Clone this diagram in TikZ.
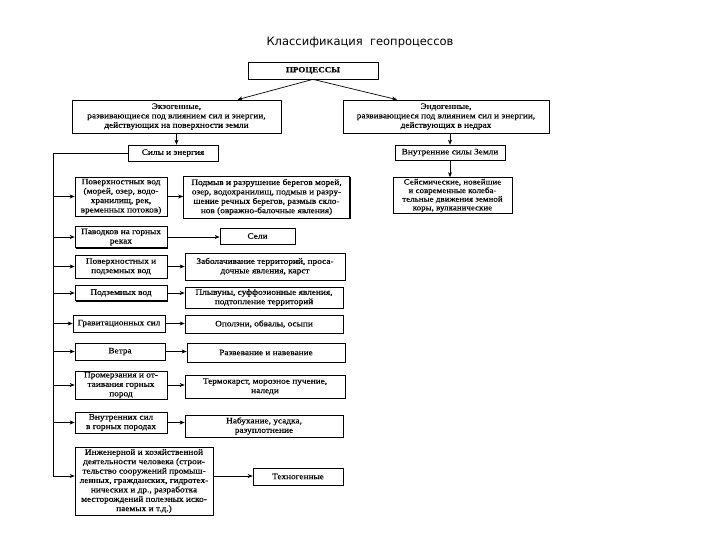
\documentclass[tikz,border=0pt]{standalone}
\usepackage{fontspec}
\setmainfont{Liberation Serif}
\newfontfamily\boxfont[FakeStretch=1.12,FakeBold=0.4]{Liberation Serif}
\newfontfamily\titlefont{DejaVu Sans}
\usetikzlibrary{arrows.meta,shadows,calc}
\begin{document}
\begin{tikzpicture}[x=1pt,y=-1pt,
  bx/.style={draw, line width=0.7pt, fill=white, align=center, inner sep=1pt,
    font=\boxfont\fontsize{8.3}{9.4}\selectfont,
    drop shadow={shadow xshift=1pt, shadow yshift=-1pt, fill=black, opacity=1}},
  arr/.style={-{Stealth[length=5pt,width=4pt]}, line width=0.7pt},
  ln/.style={line width=0.7pt}]
\fill[white] (0,0) rectangle (720,540);
\useasboundingbox (0,0) rectangle (720,540);

\node[font=\titlefont\fontsize{11.5}{13}\selectfont] (title) at (360,43) {Классификация\ \ геопроцессов};

\node[bx, minimum width=130pt, minimum height=17pt, font=\boxfont\bfseries\fontsize{8}{9}\selectfont] (proc) at (313,70.5) {ПРОЦЕССЫ};
\node[bx, minimum width=209pt, minimum height=33pt] (exo) at (176.5,116.5) {Экзогенные,\\развивающиеся под влиянием сил и энергии,\\действующих на поверхности земли};
\node[bx, minimum width=206pt, minimum height=33pt] (endo) at (446,116.5) {Эндогенные,\\развивающиеся под влиянием сил и энергии,\\действующих в недрах};
\node[bx, minimum width=90pt, minimum height=16pt] (sily) at (173,153) {Силы и энергия};
\node[bx, minimum width=110pt, minimum height=15pt] (vnutr) at (450,152.5) {Внутренние силы Земли};
\node[bx, minimum width=119pt, minimum height=36pt, font=\boxfont\fontsize{8}{8.6}\selectfont] (seism) at (452.5,195.5) {Сейсмические, новейшие\\и современные колеба-\\тельные движения земной\\коры, вулканические};

% left column
\node[bx, minimum width=92pt, minimum height=39pt] (pov) at (121,196.5) {Поверхностных вод\\(морей, озер, водо-\\хранилищ, рек,\\временных потоков)};
\node[bx, minimum width=92pt, minimum height=21pt] (pavod) at (121,237) {Паводков на горных\\реках};
\node[bx, minimum width=92pt, minimum height=23pt] (povpodz) at (121,266.5) {Поверхностных и\\подземных вод};
\node[bx, minimum width=92pt, minimum height=15pt] (podz) at (121,293) {Подземных вод};
\node[bx, minimum width=92pt, minimum height=17pt] (grav) at (119,323.5) {Гравитационных сил};
\node[bx, minimum width=90pt, minimum height=17pt] (vetra) at (120,351.5) {Ветра};
\node[bx, minimum width=92pt, minimum height=27pt] (promerz) at (121,385) {Промерзания и от-\\таивания горных\\пород};
\node[bx, minimum width=92pt, minimum height=21pt] (vnsil) at (121,422.5) {Внутренних сил\\в горных породах};
\node[bx, minimum width=138pt, minimum height=68pt] (inzh) at (144,481) {Инженерной и хозяйственной\\деятельности человека (строи-\\тельство сооружений промыш-\\ленных, гражданских, гидротех-\\нических и др., разработка\\месторождений полезных иско-\\паемых и т.д.)};

% right column
\node[bx, minimum width=166pt, minimum height=42pt] (podmyv) at (266.5,197) {Подмыв и разрушение берегов морей,\\озер, водохранилищ, подмыв и разру-\\шение речных берегов, размыв скло-\\нов (овражно-балочные явления)};
\node[bx, minimum width=75pt, minimum height=16pt] (seli) at (257.5,236) {Сели};
\node[bx, minimum width=160pt, minimum height=27pt] (zabol) at (265,266.5) {Заболачивание территорий, проса-\\дочные явления, карст};
\node[bx, minimum width=158pt, minimum height=21pt] (plyv) at (264,297.5) {Плывуны, суффозионные явления,\\подтопление территорий};
\node[bx, minimum width=158pt, minimum height=18pt] (opolz) at (264,324) {Оползни, обвалы, осыпи};
\node[bx, minimum width=158pt, minimum height=19pt] (razv) at (266,352.5) {Развевание и навевание};
\node[bx, minimum width=160pt, minimum height=23pt] (termo) at (265,386.5) {Термокарст, морозное пучение,\\наледи};
\node[bx, minimum width=158pt, minimum height=22pt] (nabuh) at (264,426) {Набухание, усадка,\\разуплотнение};
\node[bx, minimum width=90pt, minimum height=17pt] (tekhn) at (298,476.5) {Техногенные};

% connectors from top
\draw[arr] (proc.south) -- ([xshift=61pt]exo.north);
\draw[arr] (proc.south) -- ([xshift=-49pt]endo.north);
\draw[arr] (exo.south) -- (exo.south |- sily.north);
\draw[arr] (vnutr.north |- endo.south) -- (vnutr.north);
\draw[arr] (vnutr.south) -- (vnutr.south |- seism.north);

% trunk
\coordinate (ttop) at (53,153);
\coordinate (tbot) at (53,476);
\draw[ln] (sily.west) -- (ttop) -- (tbot);
\foreach \n in {pov,pavod,povpodz,podz,grav,vetra,promerz,vnsil}
  \draw[arr] (ttop |- \n.west) -- (\n.west);
\draw[arr] (tbot) -- (inzh.west |- tbot);

% left to right
\draw[arr] (pov.east) -- (podmyv.west |- pov.east);
\draw[arr] (pavod.east) -- (seli.west |- pavod.east);
\draw[arr] (povpodz.east) -- (zabol.west |- povpodz.east);
\draw[arr] (podz.east) -- (plyv.west |- podz.east);
\draw[arr] (grav.east) -- (opolz.west |- grav.east);
\draw[arr] (vetra.east) -- (razv.west |- vetra.east);
\draw[arr] (promerz.east) -- (termo.west |- promerz.east);
\draw[arr] (vnsil.east) -- (nabuh.west |- vnsil.east);
\draw[arr] (inzh.east |- tbot) -- (tekhn.west |- tbot);
\end{tikzpicture}
\end{document}
